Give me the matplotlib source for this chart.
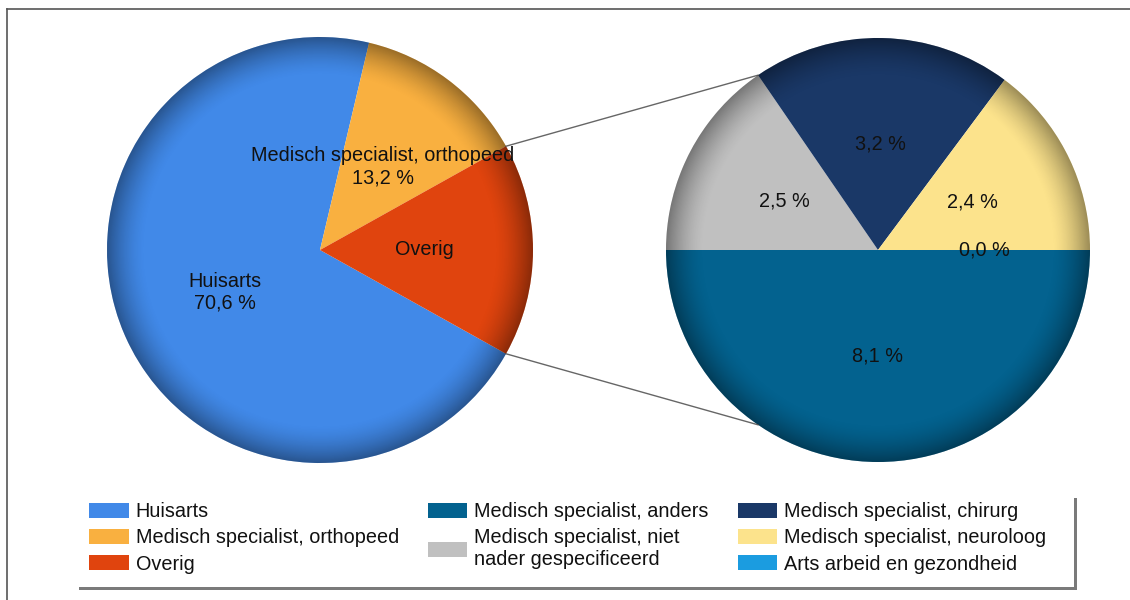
import numpy as np
import matplotlib.pyplot as plt
from matplotlib.patches import Circle, Rectangle, Patch

plt.rcParams['font.family'] = ['Liberation Sans', 'DejaVu Sans']

# hoofdcirkel
main_names = ['Huisarts', 'Medisch specialist, orthopeed', 'Overig']
main_values = [70.6, 13.2, 16.2]
main_colors = ['#4189E8', '#F9B040', '#E0440E']

# uitsplitsing van "Overig"
sub_names = ['Medisch specialist, anders', 'Medisch specialist, niet\nnader gespecificeerd',
             'Medisch specialist, chirurg', 'Medisch specialist, neuroloog',
             'Arts arbeid en gezondheid']
sub_values = [8.1, 2.5, 3.2, 2.4, 0.0]
sub_colors = ['#03628F', '#C0C0C0', '#1A3867', '#FCE38C', '#1B9CE0']


def pct(v):
    return f'{v:.1f} %'.replace('.', ',')


def shade(ax, cx, cy, r):
    # donkere rand, geeft het "3D" effect
    n = 500
    yy, xx = np.mgrid[-1:1:n * 1j, -1:1:n * 1j]
    rr = np.hypot(xx, yy)
    img = np.zeros((n, n, 4))
    img[..., 3] = np.clip((rr - 0.82) / 0.18, 0, 1) ** 1.6 * 0.38
    im = ax.imshow(img, extent=(cx - r, cx + r, cy - r, cy + r), origin='lower',
                   zorder=3, interpolation='bilinear')
    im.set_clip_path(Circle((cx, cy), r, transform=ax.transData))


W, H = 1130, 600
fig = plt.figure(figsize=(W / 100, H / 100), dpi=100)
ax = fig.add_axes([0, 0, 1, 1])

FS = 14.3
tp = dict(ha='center', va='center', fontsize=FS, color='#111111', zorder=4)

left_c, left_r = (320, 350), 213
right_c, right_r = (878, 350), 212

main_labels = [f'{main_names[0]}\n{pct(main_values[0])}',
               f'{main_names[1]}\n{pct(main_values[1])}',
               main_names[2]]
start = -main_values[2] / sum(main_values) * 180
wl, tl = ax.pie(main_values, colors=main_colors, labels=main_labels, labeldistance=0.49,
                center=left_c, radius=left_r, startangle=start, counterclock=False,
                wedgeprops=dict(linewidth=0), textprops=tp)

sub_labels = [pct(v) for v in sub_values]
wr, tr = ax.pie(sub_values, colors=sub_colors, labels=sub_labels, labeldistance=0.5,
                center=right_c, radius=right_r, startangle=0, counterclock=False,
                wedgeprops=dict(linewidth=0), textprops=tp)

shade(ax, *left_c, left_r)
shade(ax, *right_c, right_r)

# verbindingslijnen
a_hi = np.deg2rad(wl[2].theta2)
a_lo = np.deg2rad(wl[2].theta1)
b = np.deg2rad(wr[1].theta1)
for a, bb in [(a_hi, b), (a_lo, -b)]:
    ax.plot([left_c[0] + left_r * np.cos(a), right_c[0] + right_r * np.cos(bb)],
            [left_c[1] + left_r * np.sin(a), right_c[1] + right_r * np.sin(bb)],
            color='#666666', lw=1.0, zorder=2)

# kader
ax.plot([7, W], [H - 9, H - 9], color='#555555', lw=1.2, zorder=1)
ax.plot([7, 7], [H - 9, 0], color='#555555', lw=1.2, zorder=1)

# legenda-vak met schaduw
ax.add_patch(Rectangle((79, H - 590), 998, 92, facecolor='#7a7a7a', edgecolor='none', zorder=1))
ax.add_patch(Rectangle((75, H - 587), 999, 92, facecolor='white', edgecolor='none', zorder=1.5))

handles = [Patch(facecolor=c) for c in main_colors]
labels = list(main_names)
handles += [Patch(facecolor=sub_colors[0]), Patch(facecolor=sub_colors[1]),
            Patch(facecolor='none')]
labels += [sub_names[0], sub_names[1], '']
handles += [Patch(facecolor=c) for c in sub_colors[2:]]
labels += sub_names[2:]
for h in handles:
    h.set_linewidth(0)

fig.legend(handles, labels, ncol=3, loc='upper left',
           bbox_to_anchor=(89 / W, 1 - 502 / H), frameon=False, fontsize=FS,
           handlelength=2.0, handleheight=0.8, handletextpad=0.35,
           labelspacing=0.37, columnspacing=1.45, borderpad=0, borderaxespad=0,
           labelcolor='#111111')

ax.set_xlim(0, W)
ax.set_ylim(0, H)
ax.set_aspect('equal')
ax.axis('off')

fig.savefig('out.png', dpi=100)
